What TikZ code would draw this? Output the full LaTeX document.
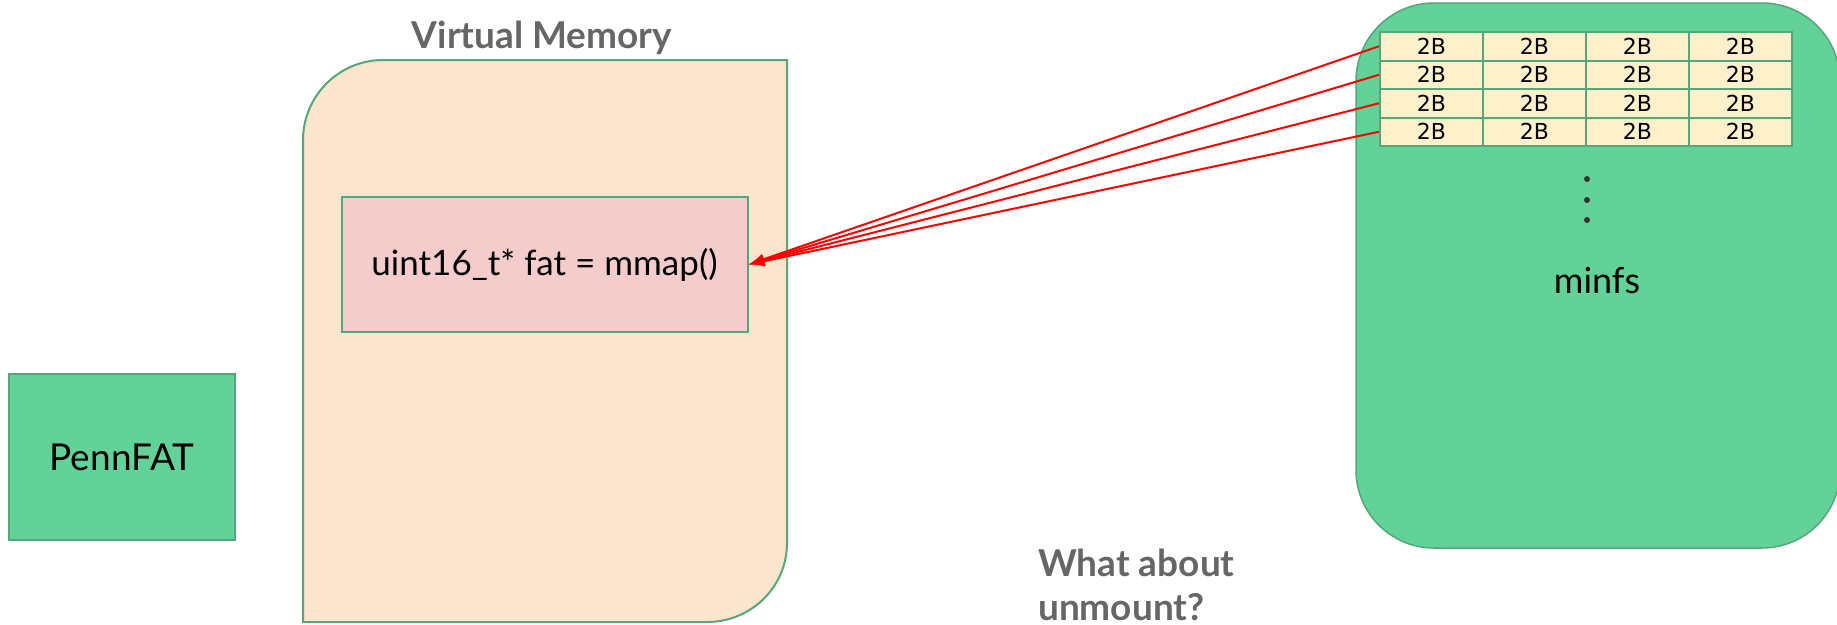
\documentclass[tikz,border=0pt]{standalone}
\usepackage{fontspec}
\setmainfont{Lato}
\newfontfamily\cellfont{DejaVu Sans}
\usetikzlibrary{arrows.meta}

\definecolor{vmfill}{HTML}{FCE5CD}
\definecolor{pinkfill}{HTML}{F4CCCC}
\definecolor{fsgreen}{HTML}{62D298}
\definecolor{edgegreen}{HTML}{55A77A}
\definecolor{cellfill}{HTML}{FFF0CC}
\definecolor{headgray}{HTML}{666666}
\definecolor{dotgray}{HTML}{333333}

\tikzset{
  heading/.style={font=\bfseries\fontsize{37}{44}\selectfont, text=headgray, inner sep=0pt},
  box/.style={draw=edgegreen, line width=2pt},
  cell/.style={draw=edgegreen, line width=2pt, fill=cellfill, minimum width=103, minimum height=28.5,
    inner sep=0pt, font=\cellfont\fontsize{22}{22}\selectfont},
  ptr/.style={draw=red, line width=2pt, -{Latex[length=16pt,width=11pt]}}
}

\begin{document}
\begin{tikzpicture}[x=1pt,y=-1pt]
\useasboundingbox (0,0) rectangle (1837,624);

% virtual memory region: rounded at top-left and bottom-right only
\draw[box, fill=vmfill] (303,622) -- (303,140)
  .. controls (303,96) and (339,60) .. (383,60) -- (787,60) -- (787,543)
  .. controls (787,587) and (751,622) .. (707,622) -- cycle;
\node[heading] (vmtitle) at (542,38) {Virtual Memory};

\node[box, fill=pinkfill, minimum width=406, minimum height=135, inner sep=0pt,
  font=\fontsize{35}{35}\selectfont] (fat) at (544.5,264.5) {uint16\_t* fat = mmap()};

% PennFAT block
\node[draw=edgegreen, line width=1.5pt, fill=fsgreen, minimum width=226, minimum height=166,
  inner sep=0pt, font=\fontsize{37}{37}\selectfont] (pennfat) at (122,457) {PennFAT};

% minfs disk image
\node[draw=edgegreen, line width=1.5pt, fill=fsgreen, rounded corners=78,
  minimum width=484, minimum height=545, inner sep=0pt] (minfs) at (1598,275.5) {};
\node[font=\fontsize{36}{36}\selectfont, inner sep=0pt] (minfslabel) at (1597,281) {minfs};

% FAT entries, 2 bytes each
\foreach \r in {1,...,4}
  \foreach \c in {1,...,4}
    \node[cell] (c-\r-\c) at ({1380+51.5+103*(\c-1)}, {32+14.25+28.5*(\r-1)}) {2B};

\foreach \yy in {179,200,220}
  \fill[dotgray] (1587,\yy) circle (3);

% each row maps into the process address space
\foreach \r in {1,...,4}
  \draw[ptr] (c-\r-1.west) -- (fat.east);

\node[heading, align=left, anchor=north west] (unmount) at (1038,549) {What about\\unmount?};
\end{tikzpicture}
\end{document}
